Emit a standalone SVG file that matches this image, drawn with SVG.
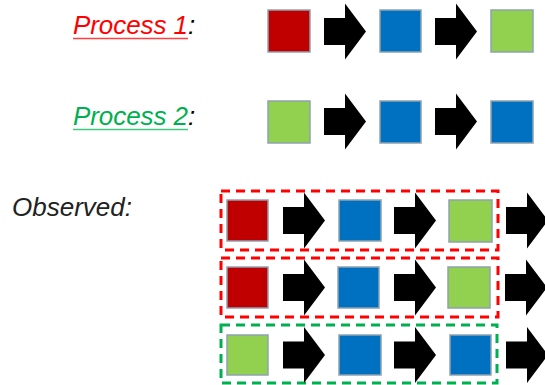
<svg xmlns="http://www.w3.org/2000/svg" width="545" height="385" viewBox="0 0 545 385">
<defs>
<style>
.lbl{font-family:"Liberation Sans",Arial,sans-serif;font-style:italic;font-size:26px}
.sq{stroke:#8FA2B0;stroke-width:1.5}
.r{fill:#C00000}
.b{fill:#0070C0}
.g{fill:#92D050}
.arr{fill:#000}
.box{fill:none;stroke-width:3;stroke-dasharray:9 6}
</style>
<path id="arrow" d="M0,-13.5 H21 V-28 L42,0 L21,28 V13.5 H0 Z"/>
</defs>
<rect width="545" height="385" fill="#fff"/>
<g id="label-p1">
<text class="lbl" x="73" y="34"><tspan fill="#FF0000" textLength="115">Process 1</tspan><tspan fill="#000">:</tspan></text>
<line x1="73" y1="38.5" x2="188" y2="38.5" stroke="#FF4040" stroke-width="1.5"/>
</g>
<g id="label-p2">
<text class="lbl" x="73" y="125"><tspan fill="#00B050" textLength="115">Process 2</tspan><tspan fill="#000">:</tspan></text>
<line x1="73" y1="129.5" x2="188" y2="129.5" stroke="#40C880" stroke-width="1.5"/>
</g>
<g id="label-obs">
<text class="lbl" x="12" y="216" fill="#222">Observed:</text>
</g>
<g id="p1">
<rect class="sq r" x="268" y="10" width="42" height="42"/>
<rect class="sq b" x="380" y="10" width="41" height="42"/>
<rect class="sq g" x="491" y="10" width="42" height="42"/>
</g>
<g id="p2">
<rect class="sq g" x="268" y="101" width="42" height="42"/>
<rect class="sq b" x="380" y="101" width="41" height="42"/>
<rect class="sq b" x="491" y="101" width="42" height="42"/>
</g>
<g id="obs1">
<rect class="box" x="221" y="191" width="277" height="59" stroke="#FF0000"/>
<rect class="sq r" x="227" y="200" width="41" height="41"/>
<rect class="sq b" x="339" y="200" width="42" height="41"/>
<rect class="sq g" x="449" y="200" width="43" height="42"/>
</g>
<g id="obs2">
<rect class="box" x="221" y="258" width="277" height="59" stroke="#FF0000"/>
<rect class="sq r" x="227" y="267" width="41" height="41"/>
<rect class="sq b" x="338" y="267" width="41" height="41"/>
<rect class="sq g" x="448" y="267" width="42" height="41"/>
</g>
<g id="obs3">
<rect class="box" x="221" y="325" width="276" height="58" stroke="#00B050"/>
<rect class="sq g" x="227" y="335" width="41" height="40"/>
<rect class="sq b" x="339" y="335" width="42" height="40"/>
<rect class="sq b" x="450" y="335" width="41" height="40"/>
</g>
<g id="connectors" class="arr">
<use href="#arrow" x="324" y="31.5"/>
<use href="#arrow" x="435" y="31.5"/>
<use href="#arrow" x="324" y="121.5"/>
<use href="#arrow" x="435" y="121.5"/>
<use href="#arrow" x="283" y="220.5"/>
<use href="#arrow" x="394" y="220.5"/>
<use href="#arrow" x="506" y="220.5"/>
<use href="#arrow" x="283" y="287.5"/>
<use href="#arrow" x="394" y="287.5"/>
<use href="#arrow" x="505" y="287.5"/>
<use href="#arrow" x="283" y="355"/>
<use href="#arrow" x="394" y="355"/>
<use href="#arrow" x="506" y="355"/>
</g>
</svg>
